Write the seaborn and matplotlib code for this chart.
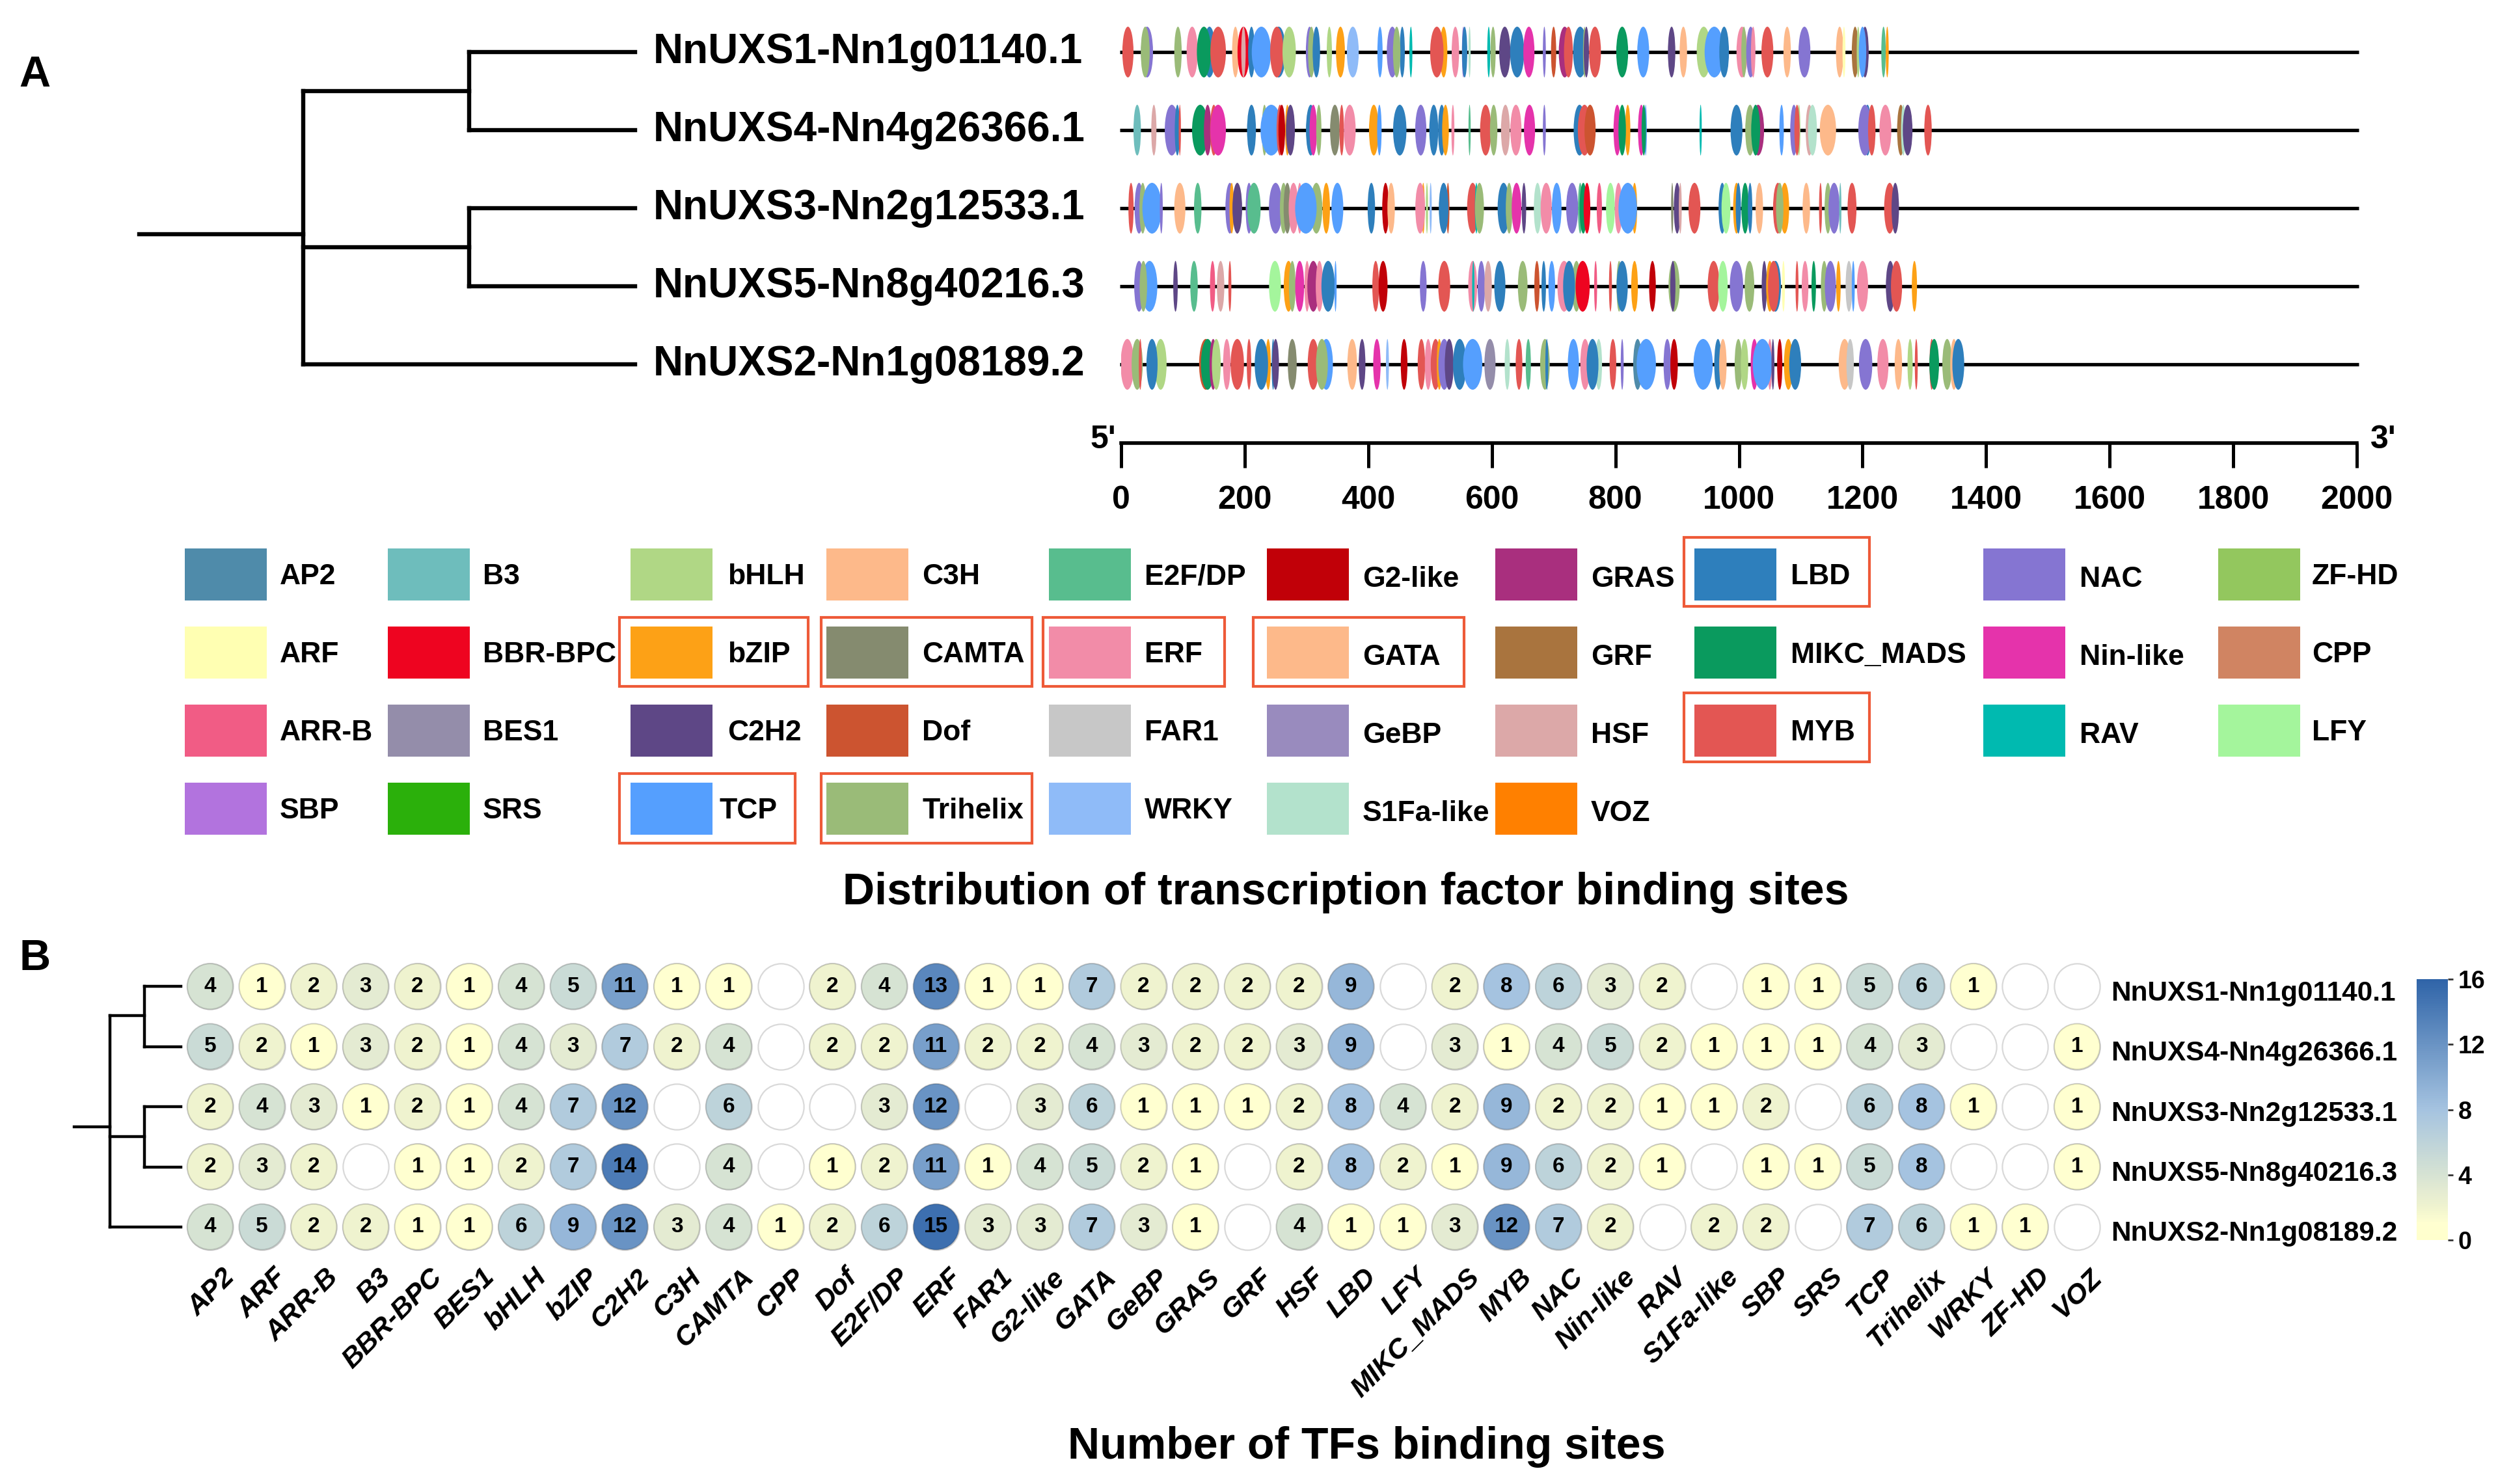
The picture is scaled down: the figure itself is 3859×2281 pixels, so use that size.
import numpy as np
import pandas as pd
import matplotlib
matplotlib.use("Agg")
import matplotlib.pyplot as plt
import seaborn as sns
from matplotlib.colors import LinearSegmentedColormap, Normalize
from matplotlib.cm import ScalarMappable
from matplotlib.patches import Ellipse, Rectangle
from matplotlib.transforms import ScaledTranslation

# genes, top to bottom
genes = ["NnUXS1-Nn1g01140.1", "NnUXS4-Nn4g26366.1", "NnUXS3-Nn2g12533.1",
         "NnUXS5-Nn8g40216.3", "NnUXS2-Nn1g08189.2"]
gene_length = [2000, 2000, 2000, 2000, 2000]
axis_ticks = list(range(0, 2001, 200))

# binding sites: (family, position, width)
sites_s1 = [("MYB", 11, 15), ("NAC", 42, 16), ("Trihelix", 39, 12), ("Trihelix", 92, 10), ("ERF", 115, 15),
            ("LBD", 143, 16), ("MIKC_MADS", 134, 19), ("MYB", 157, 21), ("C3H", 185, 9), ("BBR-BPC", 198, 16),
            ("HSF", 198, 6), ("LBD", 211, 9), ("TCP", 227, 26), ("LBD", 255, 19), ("MYB", 252, 18),
            ("bHLH", 272, 18), ("NAC", 305, 10), ("Trihelix", 308, 9), ("LBD", 316, 10), ("bHLH", 337, 7),
            ("bZIP", 355, 12), ("WRKY", 375, 16), ("TCP", 419, 7), ("NAC", 439, 15), ("LBD", 455, 7),
            ("Trihelix", 446, 10), ("RAV", 469, 4), ("bZIP", 522, 10), ("MYB", 511, 18), ("ERF", 541, 10),
            ("NAC", 554, 4), ("LBD", 556, 7), ("S1Fa-like", 564, 3), ("RAV", 595, 4), ("Trihelix", 602, 7),
            ("C2H2", 621, 15), ("LBD", 641, 19), ("Nin-like", 660, 15), ("NAC", 685, 4), ("Dof", 700, 7),
            ("GRAS", 718, 16), ("MYB", 724, 12), ("LBD", 743, 19), ("Trihelix", 750, 4), ("C2H2", 753, 7),
            ("MYB", 767, 16), ("MIKC_MADS", 811, 16), ("TCP", 845, 16), ("C2H2", 891, 10), ("C3H", 910, 10),
            ("bHLH", 943, 19), ("TCP", 960, 26), ("LBD", 976, 13), ("ERF", 1005, 15), ("Trihelix", 1008, 7),
            ("NAC", 1019, 12), ("ERF", 1023, 6), ("MYB", 1046, 16), ("C3H", 1078, 10), ("NAC", 1106, 16),
            ("C3H", 1163, 10), ("ARF", 1170, 4), ("GRF", 1188, 9), ("bHLH", 1193, 4), ("C2H2", 1204, 10),
            ("TCP", 1200, 10), ("E2F/DP", 1234, 6), ("bZIP", 1240, 4)]
sites_s4 = [("B3", 26, 10), ("HSF", 53, 7), ("NAC", 82, 19), ("LBD", 91, 7), ("MYB", 95, 3),
            ("MIKC_MADS", 128, 22), ("GRAS", 140, 10), ("MYB", 150, 10), ("Nin-like", 157, 21), ("LBD", 211, 12),
            ("Trihelix", 232, 7), ("TCP", 243, 29), ("MYB", 257, 9), ("G2-like", 260, 9), ("bZIP", 269, 6),
            ("C2H2", 274, 12), ("LBD", 307, 13), ("Nin-like", 311, 10), ("Trihelix", 320, 7), ("CAMTA", 346, 13),
            ("MYB", 357, 6), ("ERF", 370, 16), ("bZIP", 409, 13), ("TCP", 418, 6), ("LBD", 451, 18),
            ("NAC", 485, 15), ("LBD", 506, 12), ("LBD", 519, 10), ("bZIP", 525, 9), ("ERF", 537, 4),
            ("E2F/DP", 564, 3), ("MYB", 590, 15), ("Trihelix", 603, 10), ("HSF", 622, 12), ("ERF", 639, 15),
            ("Nin-like", 661, 15), ("NAC", 685, 4), ("LBD", 742, 16), ("MYB", 750, 18), ("Dof", 759, 15),
            ("Nin-like", 803, 10), ("bZIP", 820, 7), ("MIKC_MADS", 811, 10), ("Nin-like", 842, 9), ("TCP", 849, 3),
            ("MIKC_MADS", 846, 6), ("RAV", 938, 3), ("LBD", 996, 16), ("GRAS", 1031, 16), ("Trihelix", 1018, 13),
            ("MIKC_MADS", 1027, 12), ("TCP", 1069, 6), ("NAC", 1089, 10), ("bHLH", 1097, 4), ("MYB", 1094, 7),
            ("HSF", 1114, 10), ("S1Fa-like", 1119, 12), ("C3H", 1144, 22), ("LBD", 1208, 10), ("NAC", 1204, 18),
            ("MYB", 1215, 10), ("ERF", 1237, 16), ("GRF", 1262, 10), ("S1Fa-like", 1266, 6), ("C2H2", 1273, 13),
            ("MYB", 1306, 10)]
sites_s3 = [("MYB", 16, 7), ("NAC", 29, 12), ("Trihelix", 35, 9), ("TCP", 50, 26), ("NAC", 65, 4),
            ("C3H", 95, 15), ("E2F/DP", 124, 10), ("NAC", 176, 12), ("bZIP", 179, 6), ("C2H2", 188, 13),
            ("NAC", 207, 9), ("E2F/DP", 215, 18), ("NAC", 250, 18), ("Trihelix", 263, 10), ("CAMTA", 269, 10),
            ("ERF", 279, 13), ("ERF", 289, 7), ("Trihelix", 316, 16), ("TCP", 299, 29), ("bZIP", 332, 10),
            ("TCP", 350, 16), ("LBD", 405, 10), ("G2-like", 428, 9), ("C3H", 437, 10), ("bZIP", 489, 4),
            ("ERF", 484, 13), ("bHLH", 495, 3), ("WRKY", 501, 3), ("Dof", 529, 4), ("LBD", 522, 13),
            ("MYB", 569, 15), ("RAV", 575, 4), ("Trihelix", 580, 12), ("LBD", 619, 16), ("Trihelix", 628, 9),
            ("Nin-like", 640, 13), ("C2H2", 652, 6), ("S1Fa-like", 674, 10), ("ERF", 688, 15), ("TCP", 705, 13),
            ("NAC", 730, 16), ("E2F/DP", 743, 6), ("MIKC_MADS", 748, 10), ("BBR-BPC", 754, 9), ("ARR-B", 774, 7),
            ("LFY", 792, 12), ("ERF", 805, 10), ("bZIP", 831, 7), ("TCP", 820, 25), ("CAMTA", 892, 3),
            ("C2H2", 900, 9), ("HSF", 905, 4), ("MYB", 928, 16), ("LBD", 973, 10), ("LFY", 979, 12),
            ("bZIP", 996, 9), ("LBD", 999, 7), ("MIKC_MADS", 1010, 10), ("LBD", 1018, 6), ("C3H", 1033, 10),
            ("MYB", 1063, 13), ("bZIP", 1074, 12), ("Trihelix", 1066, 10), ("C3H", 1109, 10), ("MYB", 1132, 4),
            ("Trihelix", 1144, 9), ("NAC", 1154, 15), ("B3", 1164, 3), ("MYB", 1183, 12), ("MYB", 1244, 15),
            ("C2H2", 1253, 10)]
sites_s5 = [("NAC", 29, 13), ("TCP", 46, 21), ("Trihelix", 36, 10), ("C2H2", 88, 6), ("E2F/DP", 118, 10),
            ("ARR-B", 148, 7), ("HSF", 161, 10), ("MYB", 176, 4), ("LFY", 249, 16), ("bZIP", 271, 13),
            ("Trihelix", 277, 9), ("Nin-like", 289, 12), ("ERF", 301, 7), ("GRAS", 311, 16), ("ERF", 321, 10),
            ("LBD", 335, 18), ("TCP", 347, 3), ("MYB", 412, 9), ("G2-like", 424, 12), ("NAC", 489, 9),
            ("MYB", 523, 16), ("ERF", 569, 12), ("RAV", 570, 3), ("NAC", 583, 10), ("HSF", 594, 10),
            ("LBD", 613, 15), ("Trihelix", 650, 13), ("Dof", 673, 7), ("LBD", 684, 6), ("TCP", 697, 9),
            ("ERF", 717, 18), ("Trihelix", 737, 12), ("BBR-BPC", 747, 19), ("LBD", 725, 16), ("ARR-B", 768, 4),
            ("MYB", 792, 4), ("Trihelix", 806, 7), ("LBD", 811, 15), ("bZIP", 831, 9), ("G2-like", 860, 9),
            ("Trihelix", 895, 15), ("C2H2", 893, 7), ("MYB", 959, 16), ("LFY", 974, 13), ("NAC", 996, 18),
            ("Trihelix", 1017, 13), ("C2H2", 1041, 7), ("bZIP", 1050, 10), ("LBD", 1059, 15), ("MYB", 1056, 15),
            ("ARF", 1072, 4), ("MYB", 1094, 4), ("ERF", 1107, 9), ("MIKC_MADS", 1121, 6), ("Trihelix", 1138, 9),
            ("NAC", 1148, 15), ("bZIP", 1161, 6), ("FAR1", 1178, 9), ("TCP", 1185, 4), ("ERF", 1200, 15),
            ("C2H2", 1245, 12), ("MYB", 1255, 15), ("bZIP", 1284, 7)]
sites_s2 = [("ERF", 10, 18), ("Trihelix", 26, 15), ("MYB", 31, 4), ("bHLH", 64, 16), ("LBD", 50, 15),
            ("Dof", 137, 18), ("MIKC_MADS", 140, 18), ("GRAS", 149, 10), ("bHLH", 154, 12), ("ERF", 171, 10),
            ("MYB", 188, 18), ("MYB", 207, 6), ("bZIP", 238, 7), ("LBD", 227, 18), ("LBD", 246, 4),
            ("C2H2", 250, 9), ("CAMTA", 277, 12), ("MYB", 311, 15), ("TCP", 332, 18), ("Trihelix", 325, 16),
            ("C3H", 374, 13), ("C2H2", 390, 9), ("Nin-like", 414, 10), ("WRKY", 431, 4), ("G2-like", 458, 9),
            ("MYB", 486, 10), ("ERF", 497, 9), ("MYB", 509, 13), ("bZIP", 515, 7), ("NAC", 523, 16),
            ("C2H2", 531, 12), ("LBD", 548, 18), ("TCP", 569, 26), ("BES1", 597, 15), ("S1Fa-like", 625, 7),
            ("MYB", 644, 9), ("E2F/DP", 659, 7), ("Trihelix", 686, 13), ("LBD", 689, 4), ("TCP", 732, 15),
            ("ERF", 751, 13), ("S1Fa-like", 773, 9), ("LBD", 763, 16), ("MYB", 796, 9), ("NAC", 811, 4),
            ("AP2", 836, 12), ("TCP", 850, 26), ("NAC", 884, 10), ("G2-like", 895, 10), ("TCP", 942, 26),
            ("LBD", 966, 10), ("C3H", 974, 10), ("Trihelix", 999, 10), ("bHLH", 1009, 10), ("Nin-like", 1025, 10),
            ("ERF", 1050, 6), ("TCP", 1038, 26), ("C2H2", 1055, 4), ("G2-like", 1066, 7), ("bZIP", 1080, 12),
            ("LBD", 1091, 16), ("C3H", 1171, 16), ("FAR1", 1180, 10), ("NAC", 1205, 18), ("ERF", 1233, 15),
            ("C3H", 1258, 10), ("bHLH", 1277, 7), ("MYB", 1287, 4), ("MYB", 1312, 6), ("MIKC_MADS", 1316, 13),
            ("Trihelix", 1337, 13), ("C3H", 1348, 10), ("LBD", 1355, 16)]
all_sites = [sites_s1, sites_s4, sites_s3, sites_s5, sites_s2]

# legend, row by row
legend_rows = [["AP2", "B3", "bHLH", "C3H", "E2F/DP", "G2-like", "GRAS", "LBD", "NAC", "ZF-HD"],
               ["ARF", "BBR-BPC", "bZIP", "CAMTA", "ERF", "GATA", "GRF", "MIKC_MADS", "Nin-like", "CPP"],
               ["ARR-B", "BES1", "C2H2", "Dof", "FAR1", "GeBP", "HSF", "MYB", "RAV", "LFY"],
               ["SBP", "SRS", "TCP", "Trihelix", "WRKY", "S1Fa-like", "VOZ"]]
tf_colors = {"AP2": "#4F8BAA", "B3": "#6EBDBC", "bHLH": "#B0D785", "C3H": "#FDB98A", "E2F/DP": "#58BD8E",
             "G2-like": "#C10008", "GRAS": "#A92F7E", "LBD": "#2E7FBC", "NAC": "#8575D2", "ZF-HD": "#93C75E",
             "ARF": "#FFFFB2", "BBR-BPC": "#EE0420", "bZIP": "#FDA116", "CAMTA": "#858B6F", "ERF": "#F28CA8",
             "GATA": "#FDB98A", "GRF": "#A9743E", "MIKC_MADS": "#0A9A5E", "Nin-like": "#E533AB", "CPP": "#D08462",
             "ARR-B": "#F15C85", "BES1": "#948DAA", "C2H2": "#5E4786", "Dof": "#CC5430", "FAR1": "#C7C7C7",
             "GeBP": "#998BBE", "HSF": "#DCA8A8", "MYB": "#E35653", "RAV": "#00BAB0", "LFY": "#A4F59C",
             "SBP": "#B273DE", "SRS": "#2BB00B", "TCP": "#559FFE", "Trihelix": "#9ABB78", "WRKY": "#8FBBF8",
             "S1Fa-like": "#B3E2CC", "VOZ": "#FF8000"}
boxed = ["bZIP", "CAMTA", "ERF", "GATA", "LBD", "MYB", "TCP", "Trihelix"]

# panel B: counts per family (nan = no site)
families = ["AP2", "ARF", "ARR-B", "B3", "BBR-BPC", "BES1", "bHLH", "bZIP", "C2H2", "C3H", "CAMTA", "CPP", "Dof",
            "E2F/DP", "ERF", "FAR1", "G2-like", "GATA", "GeBP", "GRAS", "GRF", "HSF", "LBD", "LFY", "MIKC_MADS",
            "MYB", "NAC", "Nin-like", "RAV", "S1Fa-like", "SBP", "SRS", "TCP", "Trihelix", "WRKY", "ZF-HD", "VOZ"]
n = np.nan
counts_s1 = [4, 1, 2, 3, 2, 1, 4, 5, 11, 1, 1, n, 2, 4, 13, 1, 1, 7, 2, 2, 2, 2, 9, n, 2, 8, 6, 3, 2, n, 1, 1, 5, 6, 1, n, n]
counts_s4 = [5, 2, 1, 3, 2, 1, 4, 3, 7, 2, 4, n, 2, 2, 11, 2, 2, 4, 3, 2, 2, 3, 9, n, 3, 1, 4, 5, 2, 1, 1, 1, 4, 3, n, n, 1]
counts_s3 = [2, 4, 3, 1, 2, 1, 4, 7, 12, n, 6, n, n, 3, 12, n, 3, 6, 1, 1, 1, 2, 8, 4, 2, 9, 2, 2, 1, 1, 2, n, 6, 8, 1, n, 1]
counts_s5 = [2, 3, 2, n, 1, 1, 2, 7, 14, n, 4, n, 1, 2, 11, 1, 4, 5, 2, 1, n, 2, 8, 2, 1, 9, 6, 2, 1, n, 1, 1, 5, 8, n, n, 1]
counts_s2 = [4, 5, 2, 2, 1, 1, 6, 9, 12, 3, 4, 1, 2, 6, 15, 3, 3, 7, 3, 1, n, 4, 1, 1, 3, 12, 7, 2, n, 2, 2, n, 7, 6, 1, 1, n]
all_counts = [counts_s1, counts_s4, counts_s3, counts_s5, counts_s2]
cbar_ticks = [0, 4, 8, 12, 16]

W, H = 3859, 2281
sns.set_theme(style="white")
plt.rcParams["font.family"] = ["Liberation Sans", "DejaVu Sans"]
plt.rcParams["font.weight"] = "bold"
plt.rcParams["text.color"] = "black"
plt.rcParams["xtick.color"] = "black"
plt.rcParams["ytick.color"] = "black"
fig = plt.figure(figsize=(W / 100, H / 100), dpi=100)


def px_axes(x0, y0, x1, y1):
    # axes placed by pixel box, y going down
    return fig.add_axes([x0 / W, 1 - y1 / H, (x1 - x0) / W, (y1 - y0) / H])


def shift_labels(labels, dx, dy):
    for t in labels:
        t.set_transform(t.get_transform() + ScaledTranslation(dx / 100, -dy / 100, fig.dpi_scale_trans))


# canvas for trees, legend and titles
bg = px_axes(0, 0, W, H)
bg.set_xlim(0, W)
bg.set_ylim(H, 0)
bg.axis("off")

# panel A sites
ax_a = px_axes(1723, 20, 3622, 681)
ax_a.set_xlim(0, 2000)
ax_a.set_ylim((681 - 80) / 120, (20 - 80) / 120)
ax_a.patch.set_alpha(0)
for i, gene in enumerate(genes):
    ax_a.hlines(i, -2, gene_length[i] + 3, color="black", lw=3.8, zorder=1, clip_on=False)
    for tf, pos, width in all_sites[i]:
        # the sites look a bit fatter than the raw reading
        ax_a.add_patch(Ellipse((pos, i), width * 1.2, 0.65, facecolor=tf_colors[tf], edgecolor="none", zorder=2))
    bg.text(1004, 80 + 120 * i, gene, fontsize=46, va="center", ha="left", color="black")
sns.despine(ax=ax_a, left=True, top=True, right=True)
ax_a.spines["bottom"].set_linewidth(4)
ax_a.spines["bottom"].set_color("black")
ax_a.set_yticks([])
ax_a.set_xticks(axis_ticks)
ax_a.tick_params(axis="x", direction="out", bottom=True, length=27, width=3.6, color="black", pad=20, labelsize=36)
bg.text(1695, 676, "5'", fontsize=36, ha="center", va="center")
bg.text(3663, 676, "3'", fontsize=36, ha="center", va="center")

# tree A
tree_a = [((214, 466), (360, 360)), ((466, 466), (140, 560)), ((466, 721), (140, 140)), ((466, 721), (380, 380)),
          ((721, 721), (80, 200)), ((721, 721), (320, 440)), ((721, 976), (80, 80)), ((721, 976), (200, 200)),
          ((721, 976), (320, 320)), ((721, 976), (440, 440)), ((466, 976), (560, 560))]
for xs, ys in tree_a:
    bg.plot(xs, ys, color="black", lw=4.6, solid_capstyle="projecting")

# legend
swatch_x = [284, 596, 969, 1270, 1612, 1947, 2298, 2604, 3048, 3409]
label_x = [430, 742, 1118, 1417, 1759, 2094, 2445, 2752, 3196, 3553]
label_dy = [0, 0, 0, 0, 0, 4, 4, 0, 4, 0]
row_y = [843, 963, 1083, 1203]
for r, row in enumerate(legend_rows):
    for c, tf in enumerate(row):
        bg.add_patch(Rectangle((swatch_x[c], row_y[r]), 126, 80, facecolor=tf_colors[tf], edgecolor="none"))
        tx = label_x[c] - 13 if tf == "TCP" else label_x[c]
        bg.text(tx, row_y[r] + 44 + label_dy[c], tf, fontsize=32, va="center", ha="left")
box_px = {"bZIP": (952, 949, 1242, 1055), "CAMTA": (1262, 949, 1586, 1055), "ERF": (1603, 949, 1882, 1055),
          "GATA": (1926, 949, 2250, 1055), "TCP": (952, 1189, 1222, 1296), "Trihelix": (1262, 1189, 1586, 1296),
          "LBD": (2588, 826, 2873, 932), "MYB": (2588, 1065, 2873, 1171)}
for tf in boxed:
    x0, y0, x1, y1 = box_px[tf]
    bg.add_patch(Rectangle((x0, y0), x1 - x0, y1 - y0, facecolor="none", edgecolor="#EE5A38", lw=3))

bg.text(2068, 1372, "Distribution of transcription factor binding sites", fontsize=49, ha="center", va="center")
bg.text(2100, 2224, "Number of TFs binding sites", fontsize=49, ha="center", va="center")
bg.text(53, 116, "A", fontsize=48, ha="center", va="center")
bg.text(54, 1474, "B", fontsize=48, ha="center", va="center")

# panel B bubbles
df = pd.DataFrame(all_counts, columns=families)
df["row"] = range(len(genes))
long_df = df.melt(id_vars="row", var_name="tf", value_name="count")
long_df["col"] = long_df["tf"].map({f: j for j, f in enumerate(families)})
present = long_df.dropna(subset=["count"])

cmap = LinearSegmentedColormap.from_list("ylbu", [(0, "#FFFFCC"), (1 / 16, "#FFFFD0"), (2 / 16, "#EFF3CF"),
                                                  (3 / 16, "#E4EBD2"), (0.25, "#D6E3D3"), (0.5, "#A5C3E0"),
                                                  (1, "#2F64A8")])
norm = Normalize(0, 16)

ax_b = px_axes(283, 1470, 3232, 1932)
edge = (0, 0, 0, 0.15)
sns.scatterplot(data=long_df, x="col", y="row", color="white", s=2560, edgecolor=edge, linewidth=1.6,
                legend=False, ax=ax_b, zorder=2)
sns.scatterplot(data=present, x="col", y="row", hue="count", palette=cmap, hue_norm=norm, s=2560,
                edgecolor=edge, linewidth=1.6, legend=False, ax=ax_b, zorder=3)
for _, cell in present.iterrows():
    ax_b.text(cell["col"], cell["row"], f"{int(cell['count'])}", ha="center", va="center", fontsize=24, zorder=4)
ax_b.set_xlim(-0.5, len(families) - 0.5)
ax_b.set_ylim(len(genes) - 0.5, -0.5)
ax_b.set_xlabel("")
ax_b.set_ylabel("")
sns.despine(ax=ax_b, left=True, bottom=True)
ax_b.patch.set_alpha(0)
ax_b.set_xticks(range(len(families)))
ax_b.set_xticklabels(families, rotation=45, ha="right", va="top", rotation_mode="anchor", style="italic", fontsize=31)
ax_b.yaxis.tick_right()
ax_b.set_yticks(range(len(genes)))
ax_b.set_yticklabels(genes, fontsize=30.5)
ax_b.tick_params(axis="both", length=0)
ax_b.tick_params(axis="y", pad=9)
ax_b.tick_params(axis="x", pad=8)
shift_labels(ax_b.get_xticklabels(), 18, 0)
shift_labels(ax_b.get_yticklabels(), 0, 6)

# tree B
tree_b = [((114, 169), (1732, 1732)), ((169, 169), (1561, 1886)), ((169, 222), (1561, 1561)), ((169, 222), (1747, 1747)),
          ((222, 222), (1516, 1609)), ((222, 222), (1701, 1794)), ((222, 278), (1516, 1516)), ((222, 278), (1609, 1609)),
          ((222, 278), (1701, 1701)), ((222, 278), (1794, 1794)), ((169, 278), (1886, 1886))]
for xs, ys in tree_b:
    bg.plot(xs, ys, color="black", lw=3.2, solid_capstyle="projecting")
bg.set_xlim(0, W)
bg.set_ylim(H, 0)

# colorbar
cax = px_axes(3714, 1505, 3762, 1906)
cb = fig.colorbar(ScalarMappable(norm=norm, cmap=cmap), cax=cax, ticks=cbar_ticks)
cb.outline.set_visible(False)
cb.ax.tick_params(length=6, width=2, color="#333333", labelsize=27, pad=5, right=True)

fig.savefig("out.png", dpi=100)
